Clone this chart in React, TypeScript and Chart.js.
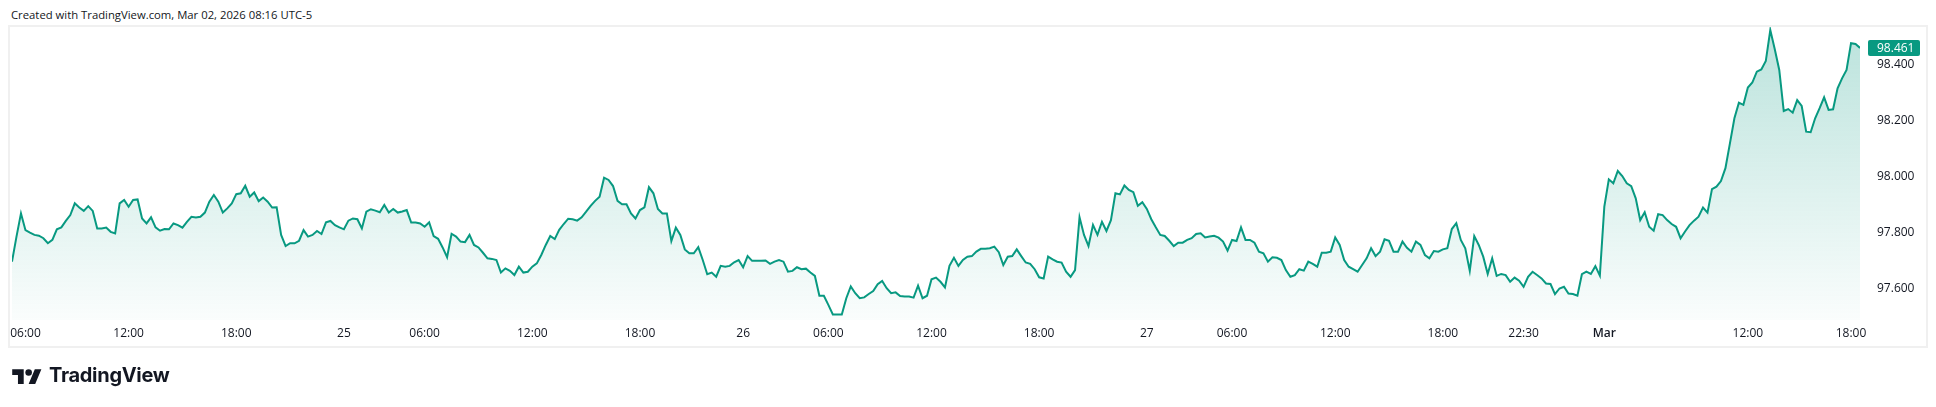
import React, { useEffect, useRef } from "react";
import { Chart, registerables } from "chart.js";

Chart.register(...registerables);

// ---- DATA (DXY-like index, 15-minute closes) ----
const pricesFeb24 = [
  97.695, 97.785, 97.868, 97.808, 97.799, 97.791, 97.788, 97.779, 97.761, 97.773,
  97.811, 97.818, 97.841, 97.862, 97.904, 97.889, 97.877, 97.894, 97.877, 97.814,
  97.814, 97.817, 97.802, 97.796, 97.904, 97.916, 97.892, 97.916, 97.918, 97.85,
  97.832, 97.854, 97.818, 97.806, 97.812, 97.811, 97.832, 97.826, 97.817, 97.838,
  97.856, 97.853, 97.856, 97.871, 97.91, 97.934, 97.91, 97.871, 97.886, 97.904,
  97.937, 97.94, 97.967, 97.928, 97.943, 97.912, 97.925, 97.91, 97.889, 97.89,
  97.791, 97.751, 97.761, 97.761, 97.77, 97.808, 97.785, 97.791, 97.805, 97.794,
  97.836, 97.841, 97.826, 97.818, 97.811, 97.842, 97.85, 97.847, 97.814, 97.874,
  97.883, 97.878, 97.872, 97.898, 97.871, 97.884, 97.871, 97.875, 97.88, 97.835,
  97.835, 97.832, 97.82, 97.836, 97.787, 97.777, 97.746, 97.711, 97.795, 97.785,
  97.767, 97.765, 97.791, 97.755, 97.746, 97.727, 97.707, 97.705,
];

const pricesFeb25 = [
  97.701, 97.656, 97.671, 97.662, 97.647, 97.677, 97.656, 97.659, 97.677, 97.689,
  97.719, 97.755, 97.787, 97.776, 97.809, 97.83, 97.849, 97.847, 97.842, 97.854,
  97.874, 97.895, 97.913, 97.928, 97.996, 97.988, 97.966, 97.913, 97.901, 97.901,
  97.868, 97.85, 97.88, 97.89, 97.962, 97.94, 97.884, 97.868, 97.868, 97.769,
  97.817, 97.791, 97.739, 97.725, 97.725, 97.747, 97.701, 97.65, 97.656, 97.641,
  97.68, 97.677, 97.68, 97.693, 97.701, 97.675, 97.715, 97.698, 97.698, 97.698,
  97.699, 97.687, 97.695, 97.701, 97.695, 97.659, 97.662, 97.675, 97.668, 97.67,
  97.656, 97.644, 97.573, 97.573, 97.54, 97.506, 97.506, 97.506, 97.564, 97.606,
  97.582, 97.564, 97.567, 97.579, 97.59, 97.614, 97.626, 97.6, 97.582, 97.585,
  97.572, 97.57, 97.57, 97.566, 97.609, 97.564, 97.573, 97.632, 97.638, 97.623,
  97.603, 97.68, 97.709, 97.68, 97.701, 97.713, 97.715, 97.731, 97.741, 97.741,
  97.743, 97.749, 97.729,
];

const pricesFeb26 = [
  97.683, 97.713, 97.715, 97.739, 97.715, 97.692, 97.687, 97.668, 97.639, 97.635,
  97.713, 97.703, 97.695, 97.692, 97.659, 97.641, 97.665, 97.854, 97.791, 97.751,
  97.827, 97.791, 97.838, 97.805, 97.844, 97.94, 97.936, 97.968, 97.952, 97.944,
  97.895, 97.908, 97.884, 97.847, 97.818, 97.791, 97.787, 97.77, 97.751, 97.763,
  97.763, 97.773, 97.779, 97.794, 97.797, 97.782, 97.785, 97.788, 97.781, 97.767,
  97.735, 97.773, 97.769, 97.818, 97.773, 97.773, 97.763, 97.731, 97.725, 97.695,
  97.711, 97.709, 97.701, 97.665, 97.641, 97.647, 97.668, 97.663, 97.695, 97.687,
  97.677, 97.727, 97.727, 97.731, 97.782, 97.755, 97.701, 97.677, 97.668, 97.659,
  97.683, 97.707, 97.743, 97.715, 97.731, 97.775, 97.77, 97.731, 97.731, 97.767,
  97.745, 97.731, 97.767, 97.755, 97.719, 97.707, 97.733, 97.731, 97.739, 97.743,
  97.812, 97.833, 97.773, 97.743, 97.662, 97.787, 97.755, 97.713, 97.651, 97.707,
  97.644,
];

const pricesMar = [
  97.651, 97.647, 97.623, 97.638, 97.627, 97.605, 97.641, 97.659, 97.647, 97.635,
  97.617, 97.615, 97.579, 97.599, 97.605, 97.581, 97.579, 97.573, 97.65, 97.659,
  97.651, 97.679, 97.645, 97.892, 97.99, 97.976, 98.02, 98.002, 97.976, 97.966,
  97.922, 97.844, 97.872, 97.82, 97.806, 97.865, 97.862, 97.844, 97.83, 97.82,
  97.779, 97.803, 97.826, 97.842, 97.856, 97.889, 97.871, 97.955, 97.964, 97.984,
  98.03, 98.119, 98.209, 98.265, 98.257, 98.319, 98.337, 98.376, 98.384, 98.414,
  98.525, 98.456, 98.382, 98.235, 98.242, 98.229, 98.274, 98.253, 98.161, 98.159,
  98.209, 98.245, 98.284, 98.239, 98.241, 98.316, 98.352, 98.382, 98.478, 98.475,
  98.461,
];

const prices = [...pricesFeb24, ...pricesFeb25, ...pricesFeb26, ...pricesMar];

// time-axis labels and the bar index each one sits on
const xTickBars = [3, 26, 50, 74, 92, 116, 140, 163, 182, 205, 229, 253, 272, 295, 319, 337, 355, 387, 410];
const xTickLabels = [
  "06:00", "12:00", "18:00", "25", "06:00", "12:00", "18:00", "26", "06:00", "12:00",
  "18:00", "27", "06:00", "12:00", "18:00", "22:30", "Mar", "12:00", "18:00",
];
const yTickValues = [97.6, 97.8, 98.0, 98.2, 98.4];
const yMin = 97.486;
const yMax = 98.536;

const headerText = "Created with TradingView.com, Mar 02, 2026 08:16 UTC-5";

const LINE = "#089981";
const TEXT = "#131722";
const FONT = "'Open Sans', 'Noto Sans', sans-serif";

const lastPricePlugin = {
  id: "lastPrice",
  afterDraw(chart: any) {
    const { ctx, chartArea, scales } = chart;
    const v = prices[prices.length - 1];
    const py = scales.y.getPixelForValue(v);
    const x0 = chartArea.right + 8;
    const w = 52;
    const h = 16;
    ctx.save();
    ctx.fillStyle = LINE;
    ctx.beginPath();
    if (ctx.roundRect) ctx.roundRect(x0, Math.round(py - h / 2), w, h, 2);
    else ctx.rect(x0, Math.round(py - h / 2), w, h);
    ctx.fill();
    ctx.fillStyle = "#ffffff";
    ctx.font = `12px ${FONT}`;
    ctx.textBaseline = "middle";
    ctx.textAlign = "left";
    ctx.fillText(v.toFixed(3), x0 + 9, py + 0.5);
    ctx.restore();
  },
};

export default function App() {
  const canvasRef = useRef<HTMLCanvasElement | null>(null);

  useEffect(() => {
    const canvas = canvasRef.current;
    if (!canvas) return;
    const chart = new Chart(canvas, {
      type: "line",
      data: {
        datasets: [
          {
            data: prices.map((p, i) => ({ x: i, y: p })),
            borderColor: LINE,
            borderWidth: 2,
            pointRadius: 0,
            tension: 0,
            fill: "start",
            backgroundColor: (c: any) => {
              const ca = c.chart.chartArea;
              if (!ca) return "rgba(8,153,129,0.15)";
              const g = c.chart.ctx.createLinearGradient(0, ca.top, 0, ca.bottom);
              g.addColorStop(0, "rgba(8,153,129,0.28)");
              g.addColorStop(1, "rgba(8,153,129,0.02)");
              return g;
            },
          },
        ],
      },
      options: {
        animation: false,
        responsive: false,
        maintainAspectRatio: false,
        layout: { padding: { left: 12, top: 27, right: 0, bottom: 0 } },
        plugins: { legend: { display: false }, tooltip: { enabled: false } },
        scales: {
          x: {
            type: "linear",
            min: 0,
            max: prices.length - 1,
            grid: { display: false, drawTicks: false },
            border: { display: false },
            afterBuildTicks: (s: any) => {
              s.ticks = xTickBars.map((v) => ({ value: v }));
            },
            afterFit: (s: any) => {
              s.height = 87;
              s.paddingLeft = 0;
              s.paddingRight = 0;
            },
            ticks: {
              autoSkip: false,
              maxRotation: 0,
              minRotation: 0,
              padding: 6,
              color: TEXT,
              font: (c: any) => ({
                family: FONT,
                size: 12,
                weight: xTickLabels[c.index] === "Mar" ? 600 : "normal",
              }),
              callback: (_v: any, i: number) => xTickLabels[i],
            },
          },
          y: {
            position: "right",
            min: yMin,
            max: yMax,
            grid: { display: false, drawTicks: false },
            border: { display: false },
            afterBuildTicks: (s: any) => {
              s.ticks = yTickValues.map((v) => ({ value: v }));
            },
            afterFit: (s: any) => {
              s.width = 76;
              s.paddingTop = 0;
              s.paddingBottom = 0;
            },
            ticks: {
              padding: 17,
              color: TEXT,
              font: { family: FONT, size: 12 },
              callback: (v: any) => Number(v).toFixed(3),
            },
          },
        },
      },
      plugins: [lastPricePlugin],
    } as any);
    return () => chart.destroy();
  }, []);

  return (
    <div
      style={{
        position: "absolute",
        left: 0,
        top: 0,
        width: 1936,
        height: 407,
        background: "#ffffff",
        overflow: "hidden",
      }}
    >
      <div
        style={{
          position: "absolute",
          left: 11,
          top: 8,
          fontFamily: FONT,
          fontSize: 11.3,
          lineHeight: "14px",
          color: TEXT,
          whiteSpace: "nowrap",
        }}
      >
        {headerText}
      </div>
      <div
        style={{
          position: "absolute",
          left: 8,
          top: 25,
          width: 1920,
          height: 323,
          boxSizing: "border-box",
          border: "2px solid #f0f0f0",
        }}
      />
      <canvas
        ref={canvasRef}
        width={1936}
        height={407}
        style={{ position: "absolute", left: 0, top: 0, width: 1936, height: 407 }}
      />
      <svg
        width={30}
        height={23}
        viewBox="0 0 36 28"
        style={{ position: "absolute", left: 12, top: 366 }}
      >
        <path d="M14 22H7V11H0V4h14v18zM28 22h-8l7.5-18h8L28 22z" fill={TEXT} />
        <circle cx="20" cy="8" r="4" fill={TEXT} />
      </svg>
      <div
        style={{
          position: "absolute",
          left: 49,
          top: 365,
          fontFamily: "Inter, 'Noto Sans', sans-serif",
          fontWeight: 700,
          fontSize: 20,
          lineHeight: "20px",
          letterSpacing: "-0.3px",
          color: TEXT,
          whiteSpace: "nowrap",
        }}
      >
        TradingView
      </div>
    </div>
  );
}
